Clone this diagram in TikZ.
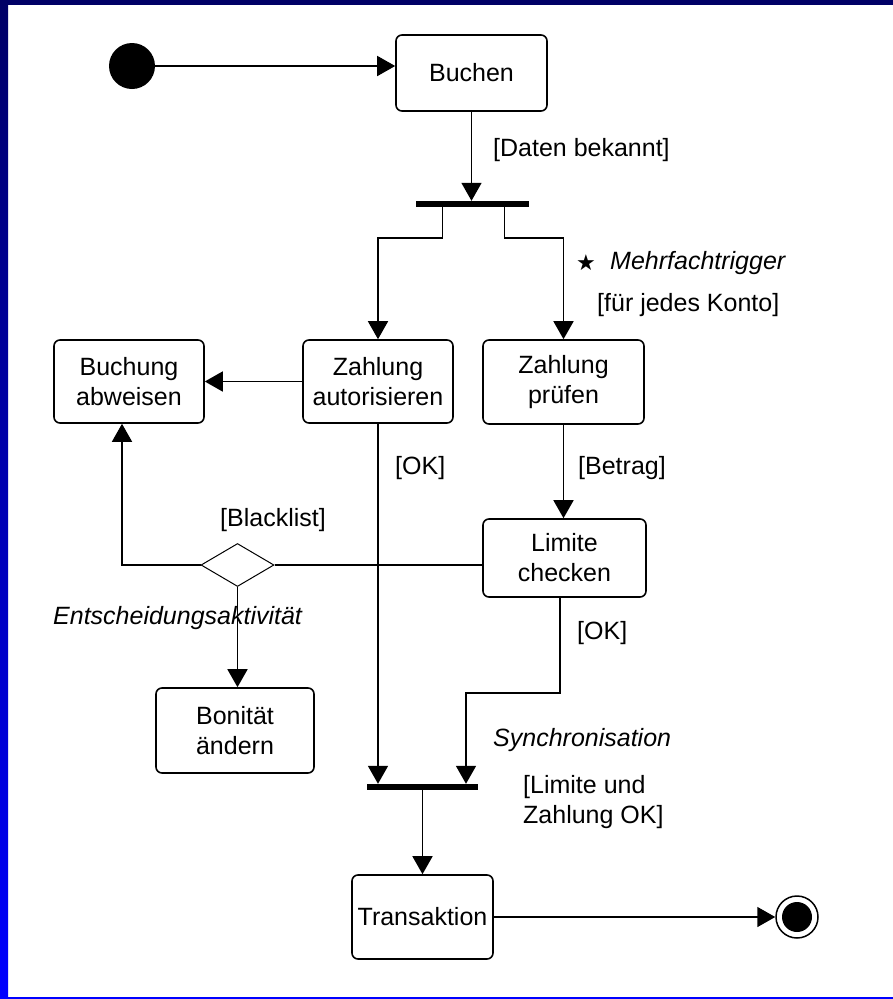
\documentclass[tikz,border=0pt]{standalone}
\usepackage{fontspec}
\setmainfont{Liberation Sans}
\newfontfamily\starfont{DejaVu Sans}
\usetikzlibrary{arrows.meta,shapes.geometric}
\definecolor{navy}{RGB}{0,0,102}
\definecolor{brightblue}{RGB}{0,0,255}
\tikzset{
  act/.style={draw, rounded corners=6pt, line width=1.6pt, align=center,
              font=\fontsize{25}{30}\selectfont, inner sep=0pt},
  bar/.style={fill=black, minimum height=6pt, inner sep=0pt},
  conn/.style={line width=1.6pt},
  arr/.style={line width=1.6pt, -{Triangle[length=18pt,width=20pt]}},
  lbl/.style={font=\fontsize{25}{30}\selectfont, inner sep=0pt, anchor=west, align=left},
  ilbl/.style={lbl, font=\fontsize{25}{30}\selectfont\itshape},
}
\begin{document}
\begin{tikzpicture}[x=1pt, y=-1pt]
\useasboundingbox (0,0) rectangle (893,999);
\fill[white] (0,0) rectangle (893,999);
% frame
\shade[top color=navy, bottom color=brightblue] (0,0) rectangle (8,999);
\fill[navy] (0,0) rectangle (893,5);
\fill[brightblue] (0,997) rectangle (893,999);

% nodes
\node[circle, fill=black, minimum size=46pt, inner sep=0pt] (init) at (132,66) {};
\node[act, minimum width=151pt, minimum height=76pt] (buchen) at (471.5,73) {Buchen};
\node[bar, minimum width=113pt] (fork) at (472.5,204) {};
\node[act, minimum width=150pt, minimum height=83pt] (abweisen) at (129,381.5) {Buchung\\abweisen};
\node[act, minimum width=150pt, minimum height=83pt] (autor) at (378,381.5) {Zahlung\\autorisieren};
\node[act, minimum width=161pt, minimum height=84pt] (pruefen) at (563.5,382) {Zahlung\\prüfen};
\node[act, minimum width=163pt, minimum height=78pt] (limite) at (564.5,558) {Limite\\checken};
\node[diamond, draw, line width=1pt, minimum width=73pt, minimum height=43pt, inner sep=0pt] (dia) at (237.5,565) {};
\node[act, minimum width=158pt, minimum height=85pt] (bonitaet) at (235,730.5) {Bonität\\ändern};
\node[bar, minimum width=111pt] (join) at (422.5,787) {};
\node[act, minimum width=141pt, minimum height=84pt] (trans) at (422.5,917) {Transaktion};
\node[circle, draw, line width=1.5pt, minimum size=42pt, inner sep=0pt] (final) at (797,917) {};
\fill (final.center) circle (15pt);

% connectors
\draw[arr] (init.east) -- (init.east -| buchen.west);
\draw[arr] (buchen.south) -- (buchen.south |- fork.north);
\draw[arr] ([xshift=-30pt]fork.south) -- ++(0,31) -| (autor.north);
\draw[arr] ([xshift=32pt]fork.south) -- ++(0,31) -| (pruefen.north);
\draw[arr] (autor.west) -- (abweisen.east);
\draw[arr] (pruefen.south) -- (pruefen.south |- limite.north);
\draw[conn] (dia.east) -- (dia.east -| limite.west);
\draw[arr] (dia.west) -| ([xshift=-7pt]abweisen.south);
\draw[arr] (dia.south) -- (dia.south |- bonitaet.north);
\draw[arr] (autor.south) -- (autor.south |- join.north);
\draw[arr] ([xshift=-4.5pt]limite.south) -- ++(0,95) -| ([xshift=43.5pt]join.north);
\draw[arr] (join.south) -- (trans.north);
\draw[arr] (trans.east) -- (final.west);

% labels
\node[lbl] (l1) at (493,150) {[Daten bekannt]};
\node[inner sep=0pt, font=\starfont\fontsize{22}{22}\selectfont] (l2s) at (586,263) {★};
\node[ilbl] (l2) at (610,263) {Mehrfachtrigger};
\node[lbl] (l3) at (597,305) {[für jedes Konto]};
\node[lbl] (l4) at (395,468) {[OK]};
\node[lbl] (l5) at (578,468) {[Betrag]};
\node[lbl] (l6) at (220,520) {[Blacklist]};
\node[ilbl] (l7) at (53,618) {Entscheidungsaktivität};
\node[lbl] (l8) at (577,633) {[OK]};
\node[ilbl] (l9) at (493,740) {Synchronisation};
\node[lbl] (l10) at (523,802) {[Limite und\\Zahlung OK]};
\end{tikzpicture}
\end{document}
